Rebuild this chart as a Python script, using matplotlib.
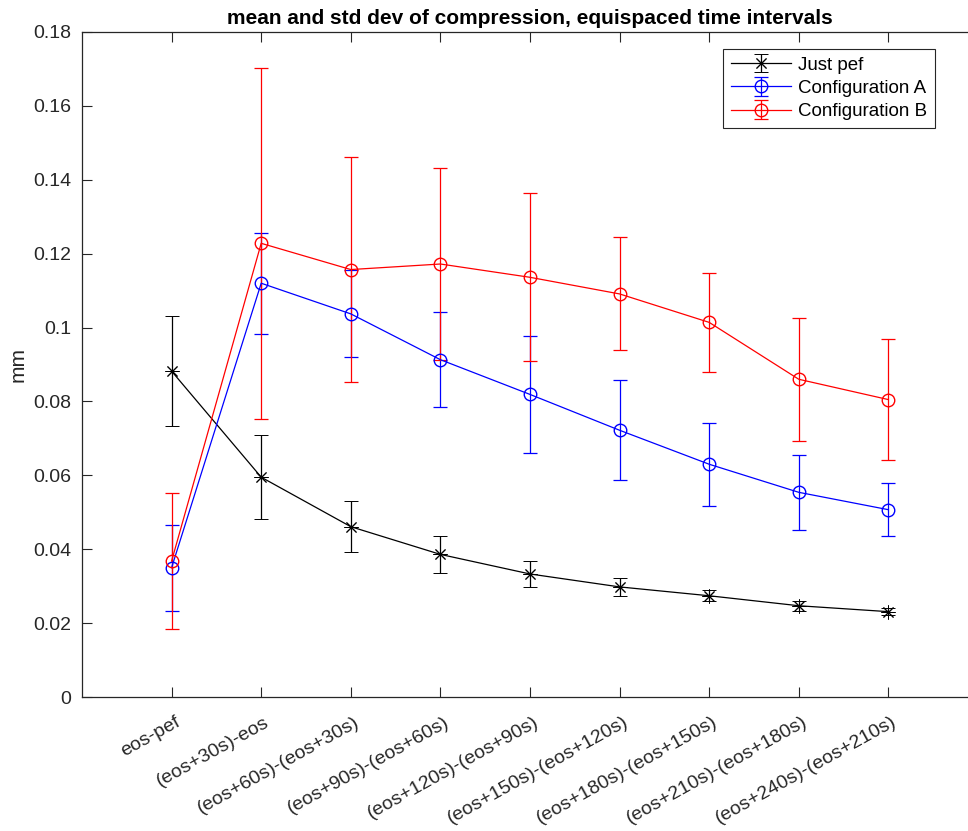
import numpy as np
import matplotlib.pyplot as plt
from matplotlib.ticker import FuncFormatter, MultipleLocator
from matplotlib.transforms import ScaledTranslation

# time interval labels
intervals = ['eos-pef', '(eos+30s)-eos', '(eos+60s)-(eos+30s)', '(eos+90s)-(eos+60s)',
             '(eos+120s)-(eos+90s)', '(eos+150s)-(eos+120s)', '(eos+180s)-(eos+150s)',
             '(eos+210s)-(eos+180s)', '(eos+240s)-(eos+210s)']

# compression mean and std dev (mm)
pef_mean = [0.0882, 0.0595, 0.0461, 0.0386, 0.0333, 0.0298, 0.0274, 0.0247, 0.0231]
pef_std = [0.0149, 0.0114, 0.0069, 0.0050, 0.0035, 0.0024, 0.0015, 0.0013, 0.0009]

confA_mean = [0.0350, 0.1120, 0.1037, 0.0913, 0.0819, 0.0722, 0.0630, 0.0554, 0.0507]
confA_std = [0.0116, 0.0137, 0.0118, 0.0129, 0.0158, 0.0135, 0.0112, 0.0102, 0.0072]

confB_mean = [0.0368, 0.1228, 0.1157, 0.1172, 0.1136, 0.1091, 0.1014, 0.0860, 0.0805]
confB_std = [0.0185, 0.0475, 0.0305, 0.0259, 0.0227, 0.0153, 0.0133, 0.0167, 0.0164]

plt.rcParams['font.family'] = ['Liberation Sans', 'DejaVu Sans']
axcol = '#262626'

fig = plt.figure(figsize=(9.68, 8.31), dpi=100)
ax = fig.add_axes([82 / 968, 134 / 831, 896 / 968, 665 / 831])

x = np.arange(1, len(intervals) + 1)
asterisk = (8, 2, 0)
kw = dict(lw=0.9, elinewidth=0.9, capsize=5, capthick=0.9)

ax.errorbar(x, pef_mean, yerr=pef_std, color='k', marker=asterisk, markersize=10,
            markeredgewidth=0.7, label='Just pef', **kw)
ax.errorbar(x, confA_mean, yerr=confA_std, color='b', marker='o', mfc='none',
            markersize=9, label='Configuration A', **kw)
ax.errorbar(x, confB_mean, yerr=confB_std, color='r', marker='o', mfc='none',
            markersize=9, label='Configuration B', **kw)

ax.set_xlim(0, 10)
ax.set_ylim(0, 0.18)
ax.yaxis.set_major_locator(MultipleLocator(0.02))
ax.yaxis.set_major_formatter(FuncFormatter(lambda v, p: '%g' % round(v, 4)))
ax.set_xticks(x)
ax.set_xticklabels(intervals, rotation=29, ha='right', va='top', rotation_mode='anchor')

ax.tick_params(direction='in', top=True, right=True, length=7, width=0.8,
               colors=axcol, labelsize=14)
ax.tick_params(axis='x', pad=12)
ax.tick_params(axis='y', pad=8)
shift = ScaledTranslation(3 / 100, 0, fig.dpi_scale_trans)
for lab in ax.get_xticklabels():
    lab.set_transform(lab.get_transform() + shift)

for s in ax.spines.values():
    s.set_color(axcol)
    s.set_linewidth(0.9)

ax.set_ylabel('mm', fontsize=15, color=axcol, labelpad=4)
ax.set_title('mean and std dev of compression, equispaced time intervals',
             fontsize=15, fontweight='bold', pad=6)

leg = ax.legend(loc='upper right', bbox_to_anchor=(935 / 968, 1 - 49 / 831),
                bbox_transform=fig.transFigure, borderaxespad=0, fontsize=13.5,
                handlelength=3.2, labelspacing=0.33, fancybox=False,
                edgecolor=axcol, framealpha=1, borderpad=0.4, handletextpad=0.4)
leg.get_frame().set_linewidth(0.8)

fig.savefig('out.png', dpi=100, facecolor='white')
